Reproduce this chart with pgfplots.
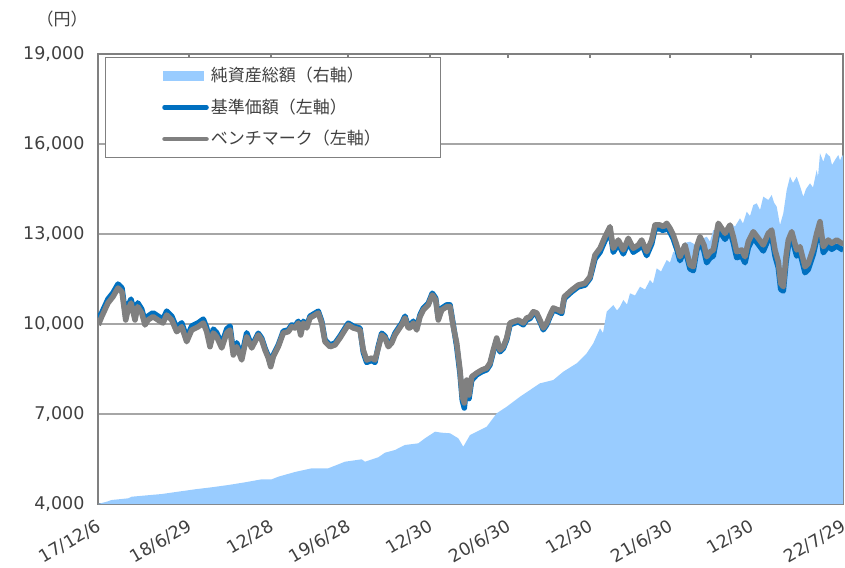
\documentclass[border=0pt]{standalone}
\usepackage{pgfplots}
\pgfplotsset{compat=1.18}
\usepackage{fontspec}
\setmainfont{DejaVu Sans}
\newfontfamily\cjk{Noto Sans CJK JP}
\definecolor{areablue}{HTML}{99CCFF}
\definecolor{navblue}{HTML}{0070C0}
\definecolor{bmgray}{HTML}{808080}
\definecolor{gridgray}{HTML}{A6A6A6}
\definecolor{txt}{HTML}{404040}
\begin{document}
\begin{tikzpicture}
\path[use as bounding box] (-98pt,-63pt) rectangle (747pt,504pt);
\begin{axis}[
  scale only axis, width=745pt, height=450pt,
  xmin=98, xmax=843, ymin=4000, ymax=19000,
  ytick={4000,7000,10000,13000,16000,19000},
  scaled y ticks=false,
  /pgf/number format/1000 sep={,},
  /pgf/number format/assume math mode=true,
  ymajorgrids, major grid style={draw=gridgray, line width=1.5pt},
  axis line style={draw=bmgray, line width=1.5pt},
  xtick={98,189,271,348,430,508,590,670,751,843},
  xticklabels={17/12/6,18/6/29,12/28,19/6/28,12/30,20/6/30,12/30,21/6/30,12/30,22/7/29},
  xticklabel style={rotate=30, anchor=north east, font=\fontsize{17.5}{20}\selectfont, text=txt, inner sep=1pt, yshift=-10pt, xshift=-8pt},
  yticklabel style={font=\fontsize{17.5}{20}\selectfont, text=txt, xshift=-10pt},
  tick align=inside, major tick length=4pt,
  xtick style={draw=bmgray, line width=1.5pt},
  ytick style={draw=none},
  legend cell align=left,
  legend style={at={(rel axis cs:0.0094,0.9933)}, anchor=north west, draw=bmgray, line width=1pt, fill=white,
    font=\cjk\fontsize{17}{20}\selectfont, text=txt, inner xsep=7pt, inner ysep=8pt, row sep=10.5pt,
    nodes={inner sep=2pt, text height=14pt, text depth=3pt, text width=221pt, align=left}},
]
\coordinate (yen) at (rel axis cs:-0.048,1.078);
\addplot[fill=areablue, draw=none, area legend,
  legend image code/.code={\path[draw=none, fill=none] (-50pt,0pt) -- (44pt,0pt); \fill[areablue] (0pt,-5pt) rectangle (41pt,5pt);}]
  coordinates {
(98,4000) (106.7,4077) (111.7,4133) (128.3,4190) (131.7,4243) (161.7,4333) (195,4490)
(211.7,4557) (228.3,4633) (245,4723) (261.7,4823) (271.7,4823) (278.3,4910) (295,5067)
(311.7,5190) (328.3,5190) (345,5410) (361.7,5490) (365,5410) (378.3,5557) (385,5710)
(395,5800) (405,5967) (418.3,6023) (425,6190) (435,6410) (441.7,6377) (450,6357)
(458.3,6190) (463.3,5910) (470,6300) (486.7,6577) (496.7,7023) (506.7,7243) (520,7577)
(530,7800) (540,8023) (553.3,8133) (563.3,8410) (576.7,8690) (586.7,9023) (593.3,9357)
(600,9857) (603,9700) (606.7,10410) (613.3,10633) (617,10450) (620,10577) (623.3,10800)
(627,10650) (630,11023) (635,10950) (640,11243) (645,11150) (650,11467) (653,11350)
(656.7,11857) (661,11750) (666.7,12133) (670,12050) (673.3,12410) (678,12300) (683.3,12690)
(690,12743) (695,12650) (700,12800) (706.7,12910) (710,12750) (713.3,13133) (718,13000)
(723.3,13133) (727,12950) (730,13357) (735,13250) (740,13523) (743,13350) (746.7,13743)
(750,13600) (753.3,13967) (756.7,14023) (760,13800) (763.3,14243) (768.3,14133) (771.7,14300)
(774,14050) (776.7,13910) (780,13300) (783.3,13690) (786.7,14467) (790,14910) (793,14700)
(796.7,14910) (800,14600) (803.3,14243) (806,14500) (810,14690) (813,14550) (816.7,15133)
(818,14900) (820,15690) (823.3,15410) (826,15700) (830,15577) (832,15300) (835,15467)
(838.3,15633) (840,15450) (841.7,15577) (843,15633)
} \closedcycle;
\addlegendentry{純資産総額（右軸）}
\addplot[navblue, line width=5.5pt, line join=round,
  legend image code/.code={\path[draw=none, fill=none] (-50pt,0pt) -- (44pt,0pt); \draw[navblue, line width=4.5pt, line cap=round] (2pt,0pt) -- (44pt,0pt);}]
  coordinates {
(98.3,10200) (101.7,10373) (108,10830) (113,11040) (118,11330) (122,11197) (125.7,10263)
(128,10597) (131,10830) (135,10263) (137.7,10707) (141.7,10497) (145,10097) (148,10263)
(153,10373) (158,10263) (163,10163) (166.7,10430) (171.7,10263) (176.7,9873) (181.7,10040)
(186.7,9540) (191.7,9930) (198.3,10040) (203.3,10163) (206.7,9873) (210,9373) (213.3,9830)
(216.7,9707) (221.7,9330) (226.7,9830) (230,9930) (233.3,9097) (236.7,9373) (241.7,8930)
(246.7,9707) (251.7,9260) (255,9470) (258.3,9693) (261.7,9527) (265,9193) (268.3,8927)
(270.7,8637) (273.3,8970) (278.3,9303) (283.3,9760) (288.3,9803) (291.7,9970) (295,9927)
(298.3,10093) (300.7,9693) (303.3,10093) (306.7,9927) (310,10260) (315,10360) (318.3,10427)
(321.7,10093) (325,9470) (330,9303) (335,9360) (340,9593) (345,9860) (348.3,10027)
(353.3,9927) (360,9860) (363.3,9053) (366.7,8720) (371.7,8787) (375,8720) (378.3,9260)
(381.7,9693) (385,9593) (388.3,9303) (391.7,9427) (395,9693) (398.3,9860) (401.7,10027)
(405,10260) (408.3,9927) (410,9927) (413.3,10093) (416.7,9860) (420,10303) (423.3,10527)
(428.3,10693) (432.3,11027) (435.7,10860) (438.3,10193) (441.7,10527) (446.7,10637) (450,10637)
(453.3,9970) (456.7,9247) (460,8347) (462.3,7457) (464.3,7200) (466.7,8013) (469,7513)
(471.7,8123) (476.7,8307) (481.7,8407) (486.7,8473) (490,8640) (493.3,9073) (496.7,9473)
(500,9073) (503.3,9183) (506.7,9473) (510,9973) (513.3,10017) (518.3,10073) (523.3,9973)
(526.7,10140) (530,10183) (533.3,10350) (536.7,10307) (540,10073) (543.3,9807) (546.7,9973)
(550,10240) (553.3,10473) (558.3,10407) (561.7,10350) (564.3,10850) (571.7,11073) (578.3,11240)
(585,11297) (590,11517) (595,12170) (600,12393) (605,12780) (610,13113) (613.3,12393)
(618.3,12670) (623.3,12337) (628.3,12727) (633.3,12393) (638.3,12503) (641.7,12670) (646.7,12280)
(651.7,12670) (655,13170) (660,13170) (663.3,13113) (666.7,13227) (670,13060) (673.3,12837)
(676.7,12503) (680,12113) (685,12503) (690,11837) (693.3,11780) (696.7,12447) (700,12780)
(704,12433) (706.7,12043) (710,12200) (713.3,12267) (718.3,13157) (721.7,12990) (725,12823)
(730,13100) (733.3,12710) (736.7,12210) (741.7,12267) (745,12043) (748.3,12543) (753.3,12877)
(758.3,12657) (763.3,12433) (768.3,12823) (771.7,12933) (775,12267) (778.3,11877) (780.7,11157)
(783.3,11100) (786,12043) (788.3,12600) (791.7,12877) (796.7,12267) (800,12377) (805,11710)
(808.3,11823) (813.3,12323) (816.7,12823) (820,13210) (823.3,12377) (828.3,12600) (831.7,12490)
(836.7,12600) (841.7,12490) (843,12480)
};
\addlegendentry{基準価額（左軸）}
\addplot[bmgray, line width=5.5pt, line join=round,
  legend image code/.code={\path[draw=none, fill=none] (-50pt,0pt) -- (44pt,0pt); \draw[bmgray, line width=4.5pt, line cap=round] (2pt,0pt) -- (44pt,0pt);}]
  coordinates {
(98.3,9967) (101.7,10243) (108,10700) (113,10910) (118,11200) (122,11067) (125.7,10133)
(128,10467) (131,10700) (135,10133) (137.7,10577) (141.7,10367) (145,9967) (148,10133)
(153,10243) (158,10133) (163,10033) (166.7,10300) (171.7,10133) (176.7,9743) (181.7,9910)
(186.7,9410) (191.7,9800) (198.3,9910) (203.3,10033) (206.7,9743) (210,9243) (213.3,9700)
(216.7,9577) (221.7,9200) (226.7,9700) (230,9800) (233.3,8967) (236.7,9243) (241.7,8800)
(246.7,9577) (251.7,9200) (255,9410) (258.3,9633) (261.7,9467) (265,9133) (268.3,8867)
(270.7,8577) (273.3,8910) (278.3,9243) (283.3,9700) (288.3,9743) (291.7,9910) (295,9867)
(298.3,10033) (300.7,9633) (303.3,10033) (306.7,9867) (310,10200) (315,10300) (318.3,10367)
(321.7,10033) (325,9410) (330,9243) (335,9300) (340,9533) (345,9800) (348.3,9967)
(353.3,9867) (360,9800) (363.3,9133) (366.7,8800) (371.7,8867) (375,8800) (378.3,9200)
(381.7,9633) (385,9533) (388.3,9243) (391.7,9367) (395,9633) (398.3,9800) (401.7,9967)
(405,10200) (408.3,9867) (410,9867) (413.3,10033) (416.7,9800) (420,10243) (423.3,10467)
(428.3,10633) (432.3,10967) (435.7,10800) (438.3,10133) (441.7,10467) (446.7,10577) (450,10577)
(453.3,9910) (456.7,9367) (460,8467) (462.3,7577) (464.3,7367) (466.7,8133) (469,7633)
(471.7,8243) (476.7,8367) (481.7,8467) (486.7,8533) (490,8700) (493.3,9133) (496.7,9533)
(500,9133) (503.3,9243) (506.7,9533) (510,10033) (513.3,10077) (518.3,10133) (523.3,10033)
(526.7,10200) (530,10243) (533.3,10410) (536.7,10367) (540,10133) (543.3,9867) (546.7,10033)
(550,10300) (553.3,10533) (558.3,10467) (561.7,10410) (564.3,10910) (571.7,11133) (578.3,11300)
(585,11357) (590,11577) (595,12300) (600,12523) (605,12910) (610,13243) (613.3,12523)
(618.3,12800) (623.3,12467) (628.3,12857) (633.3,12523) (638.3,12633) (641.7,12800) (646.7,12410)
(651.7,12800) (655,13300) (660,13300) (663.3,13243) (666.7,13357) (670,13190) (673.3,12967)
(676.7,12633) (680,12243) (685,12633) (690,11967) (693.3,11910) (696.7,12577) (700,12910)
(704,12633) (706.7,12243) (710,12400) (713.3,12467) (718.3,13357) (721.7,13190) (725,13023)
(730,13300) (733.3,12910) (736.7,12410) (741.7,12467) (745,12243) (748.3,12743) (753.3,13077)
(758.3,12857) (763.3,12633) (768.3,13023) (771.7,13133) (775,12467) (778.3,12077) (780.7,11357)
(783.3,11243) (786,12243) (788.3,12800) (791.7,13077) (796.7,12467) (800,12577) (805,11910)
(808.3,12023) (813.3,12523) (816.7,13023) (820,13410) (823.3,12577) (828.3,12800) (831.7,12690)
(836.7,12800) (841.7,12690) (843,12743)
};
\addlegendentry{ベンチマーク（左軸）}
\end{axis}
\node[font=\cjk\fontsize{17}{20}\selectfont, text=txt] at (yen) {（円）};
\end{tikzpicture}
\end{document}
